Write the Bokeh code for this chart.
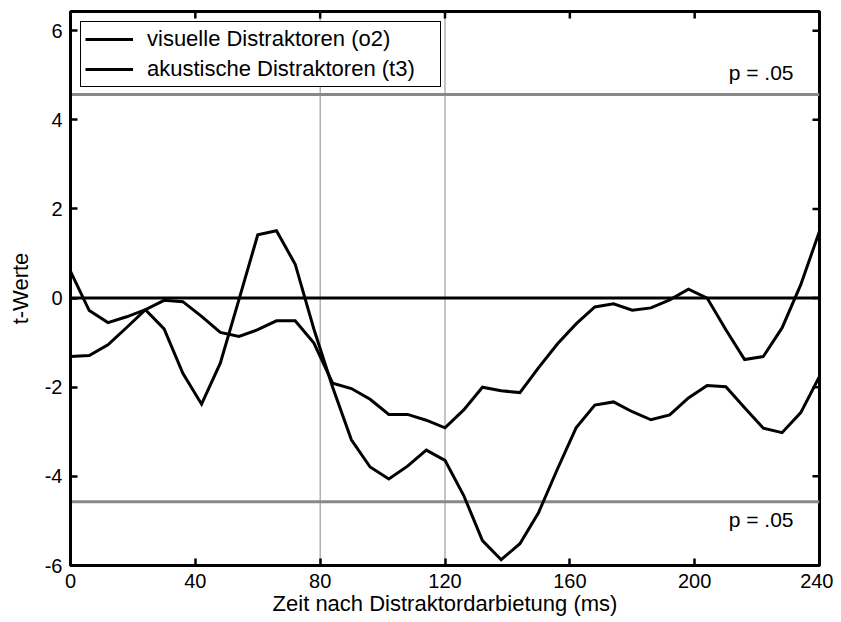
import math
from bokeh.plotting import figure
from bokeh.models import Range1d, FixedTicker, Span, Legend, LegendItem
from bokeh.core.properties import value
from bokeh.embed import file_html
from bokeh.resources import INLINE

# ---------------- data ----------------
time_ms = [0, 6, 12, 18, 24, 30, 36, 42, 48, 54, 60, 66, 72, 78, 84, 90, 96, 102, 108, 114,
           120, 126, 132, 138, 144, 150, 156, 162, 168, 174, 180, 186, 192, 198, 204, 210,
           216, 222, 228, 234, 240]

visual_o2 = [0.60, -0.28, -0.55, -0.42, -0.26, -0.69, -1.69, -2.38, -1.46, -0.03,
             1.42, 1.51, 0.76, -0.70, -2.00, -3.18, -3.79, -4.06, -3.77, -3.41,
             -3.64, -4.43, -5.44, -5.87, -5.51, -4.81, -3.84, -2.91, -2.40, -2.33,
             -2.55, -2.73, -2.62, -2.24, -1.96, -1.99, -2.46, -2.92, -3.02, -2.57,
             -1.76]

acoustic_t3 = [-1.31, -1.29, -1.05, -0.66, -0.26, -0.05, -0.08, -0.41, -0.77, -0.86,
               -0.71, -0.51, -0.51, -1.01, -1.91, -2.03, -2.27, -2.61, -2.61, -2.74,
               -2.91, -2.51, -2.00, -2.08, -2.12, -1.56, -1.03, -0.58, -0.20, -0.13,
               -0.27, -0.22, -0.04, 0.20, 0.00, -0.71, -1.38, -1.31, -0.67, 0.30,
               1.50]

series_labels = ["visuelle Distraktoren (o2)", "akustische Distraktoren (t3)"]

x_ticks = [0, 40, 80, 120, 160, 200, 240]
x_tick_labels = ["0", "40", "80", "120", "160", "200", "240"]
y_ticks = [-6, -4, -2, 0, 2, 4, 6]
y_tick_labels = ["-6", "-4", "-2", "0", "2", "4", "6"]

x_min, x_max = 0, 240
y_min, y_max = -6, 6.43

p_threshold = 4.57
p_label = "p = .05"
marker_times = [80, 120]
zero_level = 0

x_label = "Zeit nach Distraktordarbietung (ms)"
y_label = "t-Werte"

# ---------------- styling ----------------
FONT = "Liberation Sans"
TICK_FS = "20px"
LABEL_FS = "22px"
LEGEND_FS = "22px"
P_FS = "21px"
TICK_LEN = 7

p = figure(frame_width=749, frame_height=554,
           x_range=Range1d(x_min, x_max), y_range=Range1d(y_min, y_max),
           output_backend="svg", toolbar_location=None,
           min_border_left=70, min_border_right=14, min_border_top=11, min_border_bottom=50,
           x_axis_label=x_label, y_axis_label=y_label)
p.grid.visible = False
p.outline_line_color = "black"
p.outline_line_width = 3
p.background_fill_color = "white"
p.border_fill_color = "white"


def style_axis(ax, ticks, labels):
    ax.ticker = FixedTicker(ticks=ticks)
    ax.major_label_overrides = {t: l for t, l in zip(ticks, labels)}
    ax.minor_tick_line_color = None
    ax.major_tick_in = TICK_LEN
    ax.major_tick_out = 0
    ax.major_tick_line_width = 2.5
    ax.major_tick_line_color = "black"
    ax.axis_line_color = "black"
    ax.axis_line_width = 3
    ax.major_label_text_font = FONT
    ax.major_label_text_color = "black"
    ax.major_label_text_font_size = TICK_FS
    ax.axis_label_text_font = FONT
    ax.axis_label_text_font_size = LABEL_FS
    ax.axis_label_text_font_style = "normal"
    ax.axis_label_text_color = "black"


style_axis(p.xaxis[0], x_ticks, x_tick_labels)
p.xaxis[0].major_label_standoff = 8
p.xaxis[0].axis_label_standoff = 0
style_axis(p.yaxis[0], y_ticks, y_tick_labels)
p.yaxis[0].major_label_standoff = 8
p.yaxis[0].axis_label_standoff = 9

# mirrored inward ticks on top and right edges
p.ray(x=x_ticks, y=[y_max] * len(x_ticks), length=TICK_LEN, length_units="screen",
      angle=-math.pi / 2, line_color="black", line_width=2.5)
p.ray(x=[x_max] * len(y_ticks), y=y_ticks, length=TICK_LEN, length_units="screen",
      angle=math.pi, line_color="black", line_width=2.5)

# reference lines
for tm in marker_times:
    p.add_layout(Span(location=tm, dimension="height", line_color="#8a8a8a",
                      line_width=1, level="underlay"))
p.add_layout(Span(location=zero_level, dimension="width", line_color="black",
                  line_width=3, level="underlay"))
for thr in (p_threshold, -p_threshold):
    p.add_layout(Span(location=thr, dimension="width", line_color="#888888",
                      line_width=3, level="underlay"))

# threshold labels
p.text(x=[x_max], y=[p_threshold], text=[p_label], x_offset=-26, y_offset=-22,
       text_align="right", text_baseline="middle", text_color="black",
       text_font=value(FONT), text_font_size=value(P_FS))
p.text(x=[x_max], y=[-p_threshold], text=[p_label], x_offset=-26, y_offset=18,
       text_align="right", text_baseline="middle", text_color="black",
       text_font=value(FONT), text_font_size=value(P_FS))

# series
r1 = p.line(time_ms, visual_o2, line_color="black", line_width=3, line_join="miter")
r2 = p.line(time_ms, acoustic_t3, line_color="black", line_width=3, line_join="miter")

legend = Legend(items=[LegendItem(label=series_labels[0], renderers=[r1]),
                       LegendItem(label=series_labels[1], renderers=[r2])],
                location="top_left")
legend.border_line_color = "black"
legend.border_line_width = 1
legend.border_line_alpha = 1
legend.background_fill_color = "white"
legend.background_fill_alpha = 1
legend.label_text_font = FONT
legend.label_text_font_size = LEGEND_FS
legend.label_text_color = "black"
legend.glyph_width = 48
legend.glyph_height = 24
legend.label_height = 24
legend.label_standoff = 14
legend.label_width = 289
legend.padding = 4
legend.spacing = 4
legend.margin = 10
p.add_layout(legend)

open("out.html", "w").write(file_html(p, INLINE))
